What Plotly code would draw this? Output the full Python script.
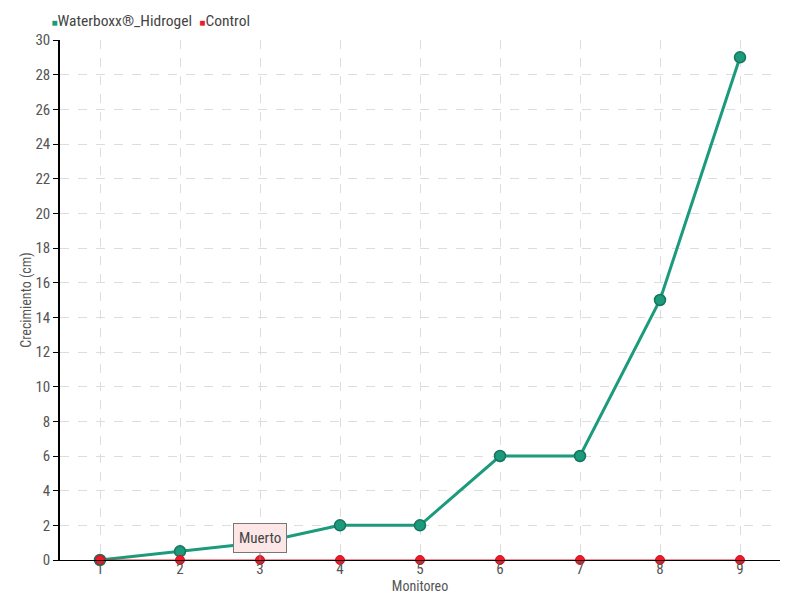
import plotly.graph_objects as go

monitoreo = [1, 2, 3, 4, 5, 6, 7, 8, 9]
waterboxx = [0, 0.5, 1, 2, 2, 6, 6, 15, 29]
control = [0, 0, 0, 0, 0, 0, 0, 0, 0]
y_ticks = list(range(0, 31, 2))

FONT = "Roboto Condensed, Liberation Sans Narrow, sans-serif"
GREEN = "#1b9a7c"
RED = "#ee1a2c"


def legend_name(color, label):
    return f'<span style="color:{color};font-size:10px">■</span>{label}'


fig = go.Figure()
fig.add_trace(go.Scatter(
    x=monitoreo, y=waterboxx, mode="lines+markers", name="Waterboxx®_Hidrogel",
    line=dict(color=GREEN, width=3),
    marker=dict(color=GREEN, size=11, line=dict(color="#17745d", width=1.5)),
    showlegend=False, cliponaxis=False))
fig.add_trace(go.Scatter(
    x=monitoreo, y=control, mode="lines+markers", name="Control",
    line=dict(color=RED, width=1.2),
    marker=dict(color=RED, size=9, line=dict(color="#d0101f", width=1)),
    showlegend=False, cliponaxis=False))
hidden = dict(color="rgba(0,0,0,0)", size=1, line=dict(width=0))
fig.add_trace(go.Scatter(
    x=[None], y=[None], mode="markers", name=legend_name(GREEN, "Waterboxx®_Hidrogel"),
    marker=hidden, legend="legend"))
fig.add_trace(go.Scatter(
    x=[None], y=[None], mode="markers", name=legend_name(RED, "Control"),
    marker=hidden, legend="legend2"))

fig.add_annotation(
    x=3, y=0, text="Muerto", showarrow=True, arrowhead=0, arrowwidth=1,
    arrowcolor="#888", ax=0, ay=-22, bgcolor="#fde6e6", bordercolor="#777",
    borderwidth=1, borderpad=5, font=dict(family=FONT, size=15, color="#444"))

leg_common = dict(orientation="h", y=1.005, xanchor="left", yanchor="bottom",
                  font=dict(family=FONT, size=15.5, color="#444"),
                  itemwidth=30, bgcolor="rgba(0,0,0,0)")

fig.update_layout(
    width=800, height=600,
    paper_bgcolor="white", plot_bgcolor="white",
    margin=dict(l=52, r=28, t=32, b=48, autoexpand=False),
    font=dict(family=FONT, size=14, color="#555"),
    legend=dict(x=-0.0675, **leg_common),
    legend2=dict(x=0.138, **leg_common),
    xaxis=dict(range=[0.5, 9.5], tickvals=monitoreo, ticktext=[str(m) for m in monitoreo],
               showgrid=True, gridcolor="#dddddd", griddash="dash", zeroline=False,
               showline=True, linecolor="black", linewidth=1, automargin=False,
               ticks="", ticklabelstandoff=-5,
               tickfont=dict(family=FONT, size=15, color="#555"),
               title=dict(text="Monitoreo", standoff=0, font=dict(family=FONT, size=14, color="#555"))),
    yaxis=dict(range=[0, 30], tickvals=y_ticks, showgrid=True, gridcolor="#dddddd",
               griddash="dash", zeroline=False, showline=True, linecolor="black",
               linewidth=1.5, ticks="outside", ticklen=5, tickcolor="black", automargin=False,
               tickfont=dict(family=FONT, size=15, color="#555"),
               title=dict(text="Crecimiento (cm)", standoff=0,
                          font=dict(family=FONT, size=14, color="#555"))),
)
fig.write_html("out.html")
